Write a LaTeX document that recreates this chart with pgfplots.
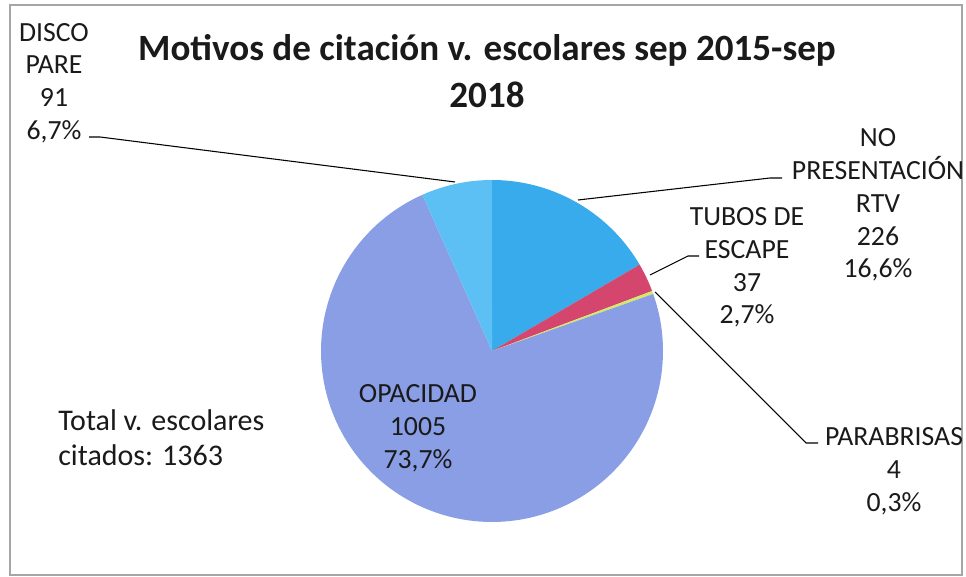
\documentclass[border=0pt]{standalone}
\usepackage{fontspec}
\setmainfont{Carlito}
\usepackage{pgfplots}
\pgfplotsset{compat=1.18}
\definecolor{cNP}{HTML}{38ABEC}
\definecolor{cDP}{HTML}{5CC0F5}
\definecolor{cOP}{HTML}{8A9EE6}
\definecolor{cTU}{HTML}{D4466E}
\definecolor{cPA}{HTML}{D4E86A}
\definecolor{txt}{HTML}{1A1A1A}
\tikzset{lbl/.style={align=center,inner sep=0pt,text=txt,font=\fontsize{20.8}{24.6}\selectfont}}
% counts
\def\vNP{226}\def\vTU{37}\def\vPA{4}\def\vOP{1005}\def\vDP{91}
\pgfmathsetmacro\tot{\vNP+\vTU+\vPA+\vOP+\vDP}
\pgfmathsetmacro\aA{90}
\pgfmathsetmacro\aB{\aA-360*(\vNP/\tot)}
\pgfmathsetmacro\aC{\aB-360*(\vTU/\tot)}
\pgfmathsetmacro\aD{\aC-360*(\vPA/\tot)}
\pgfmathsetmacro\aE{\aD-360*(\vOP/\tot)}
\pgfmathsetmacro\aF{\aE-360*(\vDP/\tot)}
\def\cx{492}\def\cy{226}\def\rr{171}
\begin{document}
\begin{tikzpicture}
\begin{axis}[x=0.75pt,y=0.75pt,xmin=0,xmax=966,ymin=0,ymax=577,
  hide axis, clip=false]
\path (axis cs:0,0) rectangle (axis cs:966,577);
\draw[gray!70, line width=0.8pt] (axis cs:10,2) rectangle (axis cs:962,572);
\addplot[fill=cNP, draw=none, domain=\aB:\aA, samples=40, variable=\t] ({\cx+\rr*cos(\t)},{\cy+\rr*sin(\t)}) -- (axis cs:\cx,\cy) -- cycle;
\addplot[fill=cTU, draw=none, domain=\aC:\aB, samples=8, variable=\t] ({\cx+\rr*cos(\t)},{\cy+\rr*sin(\t)}) -- (axis cs:\cx,\cy) -- cycle;
\addplot[fill=cPA, draw=none, domain=\aD:\aC, samples=3, variable=\t] ({\cx+\rr*cos(\t)},{\cy+\rr*sin(\t)}) -- (axis cs:\cx,\cy) -- cycle;
\addplot[fill=cOP, draw=none, domain=\aE:\aD, samples=150, variable=\t] ({\cx+\rr*cos(\t)},{\cy+\rr*sin(\t)}) -- (axis cs:\cx,\cy) -- cycle;
\addplot[fill=cDP, draw=none, domain=\aF:\aE, samples=20, variable=\t] ({\cx+\rr*cos(\t)},{\cy+\rr*sin(\t)}) -- (axis cs:\cx,\cy) -- cycle;
% leader lines
\draw[black, line width=0.8pt] (axis cs:455,395) -- (axis cs:100,440) -- (axis cs:89,440);
\draw[black, line width=0.8pt] (axis cs:578,377) -- (axis cs:770,399) -- (axis cs:782,399);
\draw[black, line width=0.8pt] (axis cs:650,302) -- (axis cs:688,321) -- (axis cs:699,321);
\draw[black, line width=0.8pt] (axis cs:655,285) -- (axis cs:806,134) -- (axis cs:818,134);
% title
\node[anchor=base, text=txt, font=\fontsize{27.8}{30}\selectfont\bfseries] at (axis cs:487,516) {Motivos de citación v. escolares sep 2015-sep};
\node[anchor=base, text=txt, font=\fontsize{27.8}{30}\selectfont\bfseries] at (axis cs:487,469) {2018};
% labels
\node[lbl] at (axis cs:878,372) {NO\\PRESENTACIÓN\\RTV\\226\\16,6\%};
\node[lbl] at (axis cs:747,309.5) {TUBOS DE\\ESCAPE\\37\\2,7\%};
\node[lbl] at (axis cs:894,106) {PARABRISAS\\4\\0,3\%};
\node[lbl] at (axis cs:54,494) {DISCO\\PARE\\91\\6,7\%};
\node[lbl] at (axis cs:418,149) {OPACIDAD\\1005\\73,7\%};
\node[lbl, align=left, anchor=west, font=\fontsize{22.5}{26}\selectfont] at (axis cs:58,139.5) {Total v. escolares\\citados: 1363};
\end{axis}
\end{tikzpicture}
\end{document}
